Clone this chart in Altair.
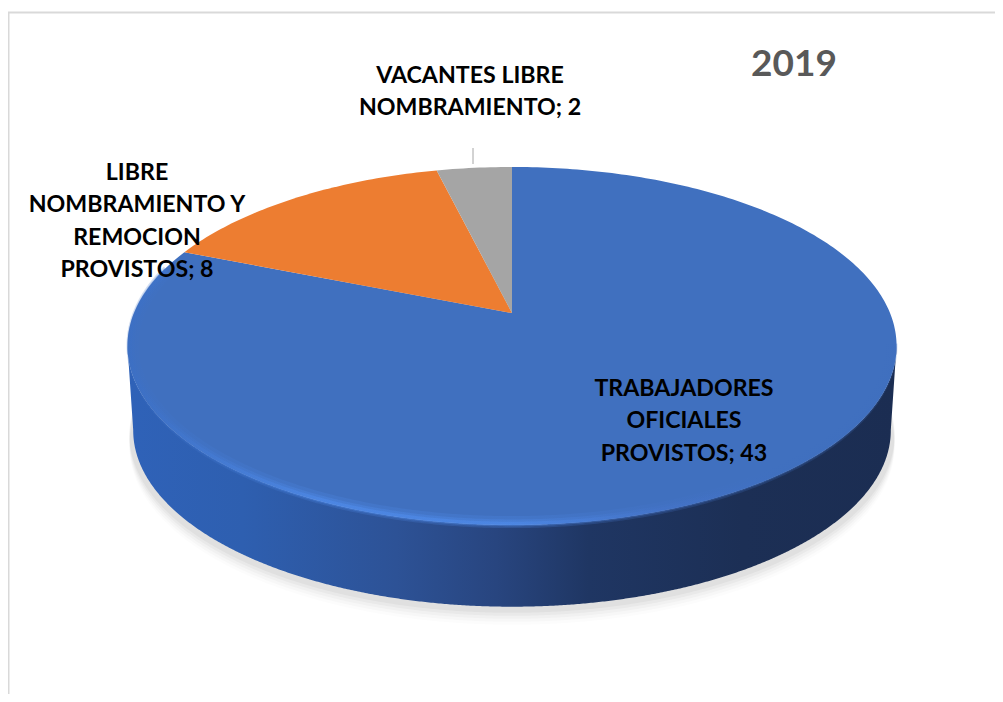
import numpy as np
import pandas as pd
import altair as alt

# ---- data
categories = ["TRABAJADORES OFICIALES PROVISTOS", "LIBRE NOMBRAMIENTO Y REMOCION PROVISTOS", "VACANTES LIBRE NOMBRAMIENTO"]
values = [43, 8, 2]
colors = ["#4070BF", "#ED7D31", "#A5A5A5"]
title = "2019"
label_lines = [
    ["TRABAJADORES", "OFICIALES", "PROVISTOS; 43"],
    ["LIBRE", "NOMBRAMIENTO Y", "REMOCION", "PROVISTOS; 8"],
    ["VACANTES LIBRE", "NOMBRAMIENTO; 2"],
]
label_anchor = [(684, 388.5), (137, 172.5), (470, 75.5)]
LINE = 32.6

W, H = 987, 686
OX, OY = 8, 8


def disc(theta, cx=512.0, y0=313.0, s=1.0):
    """Tilted pie disc: turn an angle (clockwise from 12 o'clock) into a point."""
    k, R, S = 0.184, 378.0 * s, 172.9 * s
    u, v = np.sin(theta), np.cos(theta)
    w = 1 + k * v
    return cx + R * u / w - OX, y0 - S * v / w - OY


def feat(kind, coords, **props):
    return {"type": "Feature", "properties": props, "geometry": {"type": kind, "coordinates": coords}}


def pts(x, y):
    return [[float(a), float(b)] for a, b in zip(x, y)]


# wedges from the values
fracs = np.array(values) / sum(values)
edges = np.concatenate([[0], np.cumsum(fracs)]) * 2 * np.pi
wedges = []
for i, name in enumerate(categories):
    t = np.linspace(edges[i], edges[i + 1], max(8, int(400 * fracs[i])))
    x, y = disc(t)
    apex = [512.0 - OX, 313.0 - OY]
    wedges.append(feat("Polygon", [[apex] + pts(x, y) + [apex]], name=name))

# side wall of the disc
tt = np.linspace(0, 2 * np.pi, 1441)
xt, yt = disc(tt)
il, ir = int(np.argmin(xt)), int(np.argmax(xt))
t_low = tt[ir:il + 1]  # from rightmost clockwise via bottom to leftmost
top_low = pts(*disc(t_low))
bot_low = pts(*disc(t_low, y0=398.0, s=0.985))
wall = top_low + bot_low[::-1] + [top_low[0]]

PROJ = dict(type="identity", scale=1, translate=[0, 0])


def shape(feature_list, **mark):
    return alt.Chart(alt.Data(values=feature_list)).mark_geoshape(**mark).project(**PROJ)


def grad(stops):
    return alt.LinearGradient(
        gradient="linear", x1=0, x2=1, y1=0, y2=0,
        stops=[alt.GradientStop(offset=o, color=c) for o, c in stops],
    )


layers = []

# page frame
layers.append(shape([feat("LineString", [[0.5, H + 2], [0.5, 4.5], [W + 2, 4.5]])],
                    filled=False, stroke="#D9D9D9", strokeWidth=2))

# soft shadow under the disc
for dy, op in [(16, 0.012), (13, 0.018), (10, 0.025), (7, 0.03), (4, 0.035)]:
    sx, sy = disc(tt, y0=398.0 + dy, s=0.995)
    layers.append(shape([feat("Polygon", [pts(sx, sy)])], fill="#000000", fillOpacity=op, strokeWidth=0))

# side wall
wall_fill = grad([(0.0, "#2F62B8"), (0.15, "#2E5FB0"), (0.35, "#2D5296"), (0.48, "#28457F"),
                  (0.6, "#1F3663"), (0.8, "#1C2F55"), (1.0, "#1B2D52")])
layers.append(shape([feat("Polygon", [wall])], fill=wall_fill, strokeWidth=0))

# pie wedges, coloured through a scale
layers.append(
    alt.Chart(alt.Data(values=wedges)).mark_geoshape(strokeWidth=0).encode(
        color=alt.Color("properties.name:N", scale=alt.Scale(domain=categories, range=colors), legend=None)
    ).project(**PROJ)
)

# bevel highlight along the front rim
rim_t = np.linspace(np.radians(100), np.radians(285), 500)
for inset, width, op in [(5, 12, 0.22), (3.5, 7, 0.35), (2.5, 3.5, 0.6)]:
    rx, ry = disc(rim_t, s=1 - inset / 378.0)
    rim_fill = grad([(0.0, "#3C6FC4"), (0.25, "#4F8BEA"), (0.5, "#4F8BEA"), (0.7, "#4473C8"), (0.85, "#3F6FBF"), (1.0, "#3F6FBF")])
    layers.append(shape([feat("LineString", pts(rx, ry))], filled=False, stroke=rim_fill, strokeWidth=width, strokeOpacity=op))

# leader line of the small slice
layers.append(shape([feat("LineString", [[473 - OX, 148 - OY], [473 - OX, 164 - OY]])],
                    filled=False, stroke="#A6A6A6", strokeWidth=1))

# labels
rows = []
for lines, (ax, ay) in zip(label_lines, label_anchor):
    for j, txt in enumerate(lines):
        rows.append({"t": txt, "lon": ax - OX, "lat": ay + j * LINE - OY})
layers.append(
    alt.Chart(pd.DataFrame(rows)).mark_text(
        font="Lato", fontWeight="bold", fontSize=23.2, color="#000000", align="center", baseline="middle"
    ).encode(longitude="lon:Q", latitude="lat:Q", text="t:N").project(**PROJ)
)
layers.append(
    alt.Chart(pd.DataFrame([{"t": title, "lon": 794 - OX, "lat": 65 - OY}])).mark_text(
        font="Lato", fontWeight="bold", fontSize=37, color="#595959", align="center", baseline="middle"
    ).encode(longitude="lon:Q", latitude="lat:Q", text="t:N").project(**PROJ)
)

chart = alt.layer(*layers).properties(
    width=W, height=H, padding=0, autosize=alt.AutoSizeParams(type="none"), background="#FFFFFF"
).configure_view(stroke=None)

chart.save("out.html", embed_options={"renderer": "svg", "actions": False})
